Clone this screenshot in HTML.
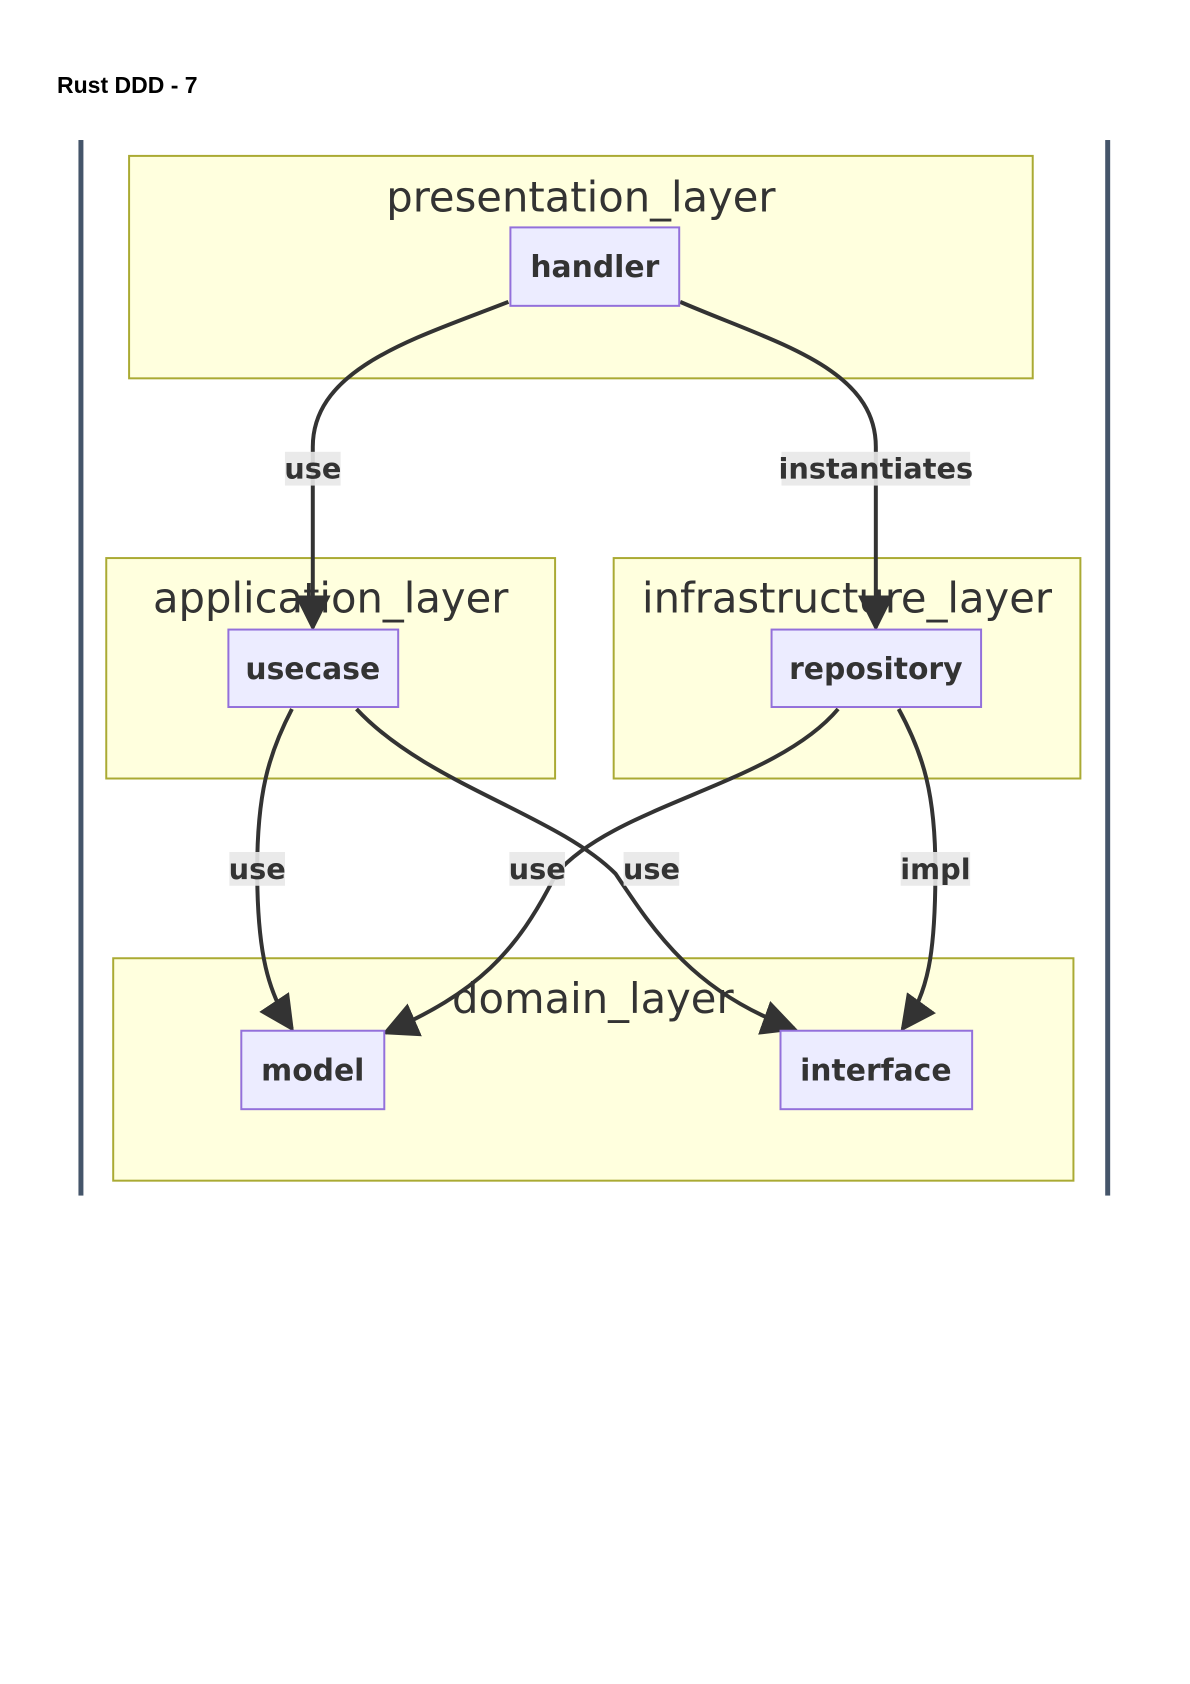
<!DOCTYPE html>
<html><head><meta charset="utf-8"><style>
body{margin:0;background:#fff;}
svg{display:block}
.cl{fill:#ffffde;stroke:#aaaa33;stroke-width:2}
.nd{fill:#ececff;stroke:#9370db;stroke-width:2}
.ct{font-family:"DejaVu Sans","Liberation Sans",sans-serif;font-size:42px;fill:#333;text-anchor:middle}
.nt{font-family:"DejaVu Sans","Liberation Sans",sans-serif;font-size:30px;fill:#333;text-anchor:middle;font-weight:bold}
.e{fill:none;stroke:#333;stroke-width:4}
.lb{fill:#e8e8e8;opacity:0.9}
.lt{font-family:"DejaVu Sans","Liberation Sans",sans-serif;font-size:29px;fill:#333;text-anchor:middle;font-weight:bold}
</style></head><body>
<svg width="1190" height="1684" viewBox="0 0 1190 1684">
<defs><marker id="m" viewBox="0 0 10 10" refX="9" refY="5" markerWidth="9" markerHeight="9" orient="auto"><path d="M0,0L10,5L0,10z" fill="#333"/></marker></defs>
<text x="57" y="93" font-family="Liberation Sans,sans-serif" font-weight="bold" font-size="23">Rust DDD - 7</text>
<g transform="scale(0.993)">
<rect x="79" y="141" width="5" height="1063" fill="#45556a"/>
<rect x="1113" y="141" width="5" height="1063" fill="#45556a"/>
<rect class="cl" x="130" y="157" width="910" height="224"/>
<rect class="cl" x="107" y="562" width="452" height="222"/>
<rect class="cl" x="618" y="562" width="470" height="222"/>
<rect class="cl" x="114" y="965" width="967" height="224"/>
<text class="ct" x="585" y="213">presentation_layer</text>
<text class="ct" x="333" y="617">application_layer</text>
<text class="ct" x="853" y="617">infrastructure_layer</text>
<text class="ct" x="597" y="1020">domain_layer</text>
<path class="e" marker-end="url(#m)" d="M512,304 C420,340 315,370 315,450 L315,632"/>
<path class="e" marker-end="url(#m)" d="M685,304 C780,345 882,370 882,450 L882,632"/>
<path class="e" marker-end="url(#m)" d="M294,714 C270,760 259,800 259,876 C259,960 270,1000 294,1036"/>
<path class="e" marker-end="url(#m)" d="M359,714 C430,790 560,820 620,880 C660,940 700,1000 800,1036"/>
<path class="e" marker-end="url(#m)" d="M844,714 C780,790 620,810 560,880 C520,960 480,1000 388,1040"/>
<path class="e" marker-end="url(#m)" d="M905,714 C930,760 942,800 942,876 C942,960 935,1000 909,1036"/>
<rect class="lb" x="287" y="455" width="56" height="34"/><text class="lt" x="315" y="482">use</text>
<rect class="lb" x="787" y="455" width="190" height="34"/><text class="lt" x="882" y="482">instantiates</text>
<rect class="lb" x="231" y="858" width="56" height="34"/><text class="lt" x="259" y="885">use</text>
<rect class="lb" x="513" y="858" width="56" height="34"/><text class="lt" x="541" y="885">use</text>
<rect class="lb" x="628" y="858" width="56" height="34"/><text class="lt" x="656" y="885">use</text>
<rect class="lb" x="907" y="858" width="70" height="34"/><text class="lt" x="942" y="885">impl</text>
<rect class="nd" x="514" y="229" width="170" height="79"/><text class="nt" x="599" y="279">handler</text>
<rect class="nd" x="230" y="634" width="171" height="78"/><text class="nt" x="315" y="684">usecase</text>
<rect class="nd" x="777" y="634" width="211" height="78"/><text class="nt" x="882" y="684">repository</text>
<rect class="nd" x="243" y="1038" width="144" height="79"/><text class="nt" x="315" y="1088">model</text>
<rect class="nd" x="786" y="1038" width="193" height="79"/><text class="nt" x="882" y="1088">interface</text>
</g>
</svg>
</body></html>
